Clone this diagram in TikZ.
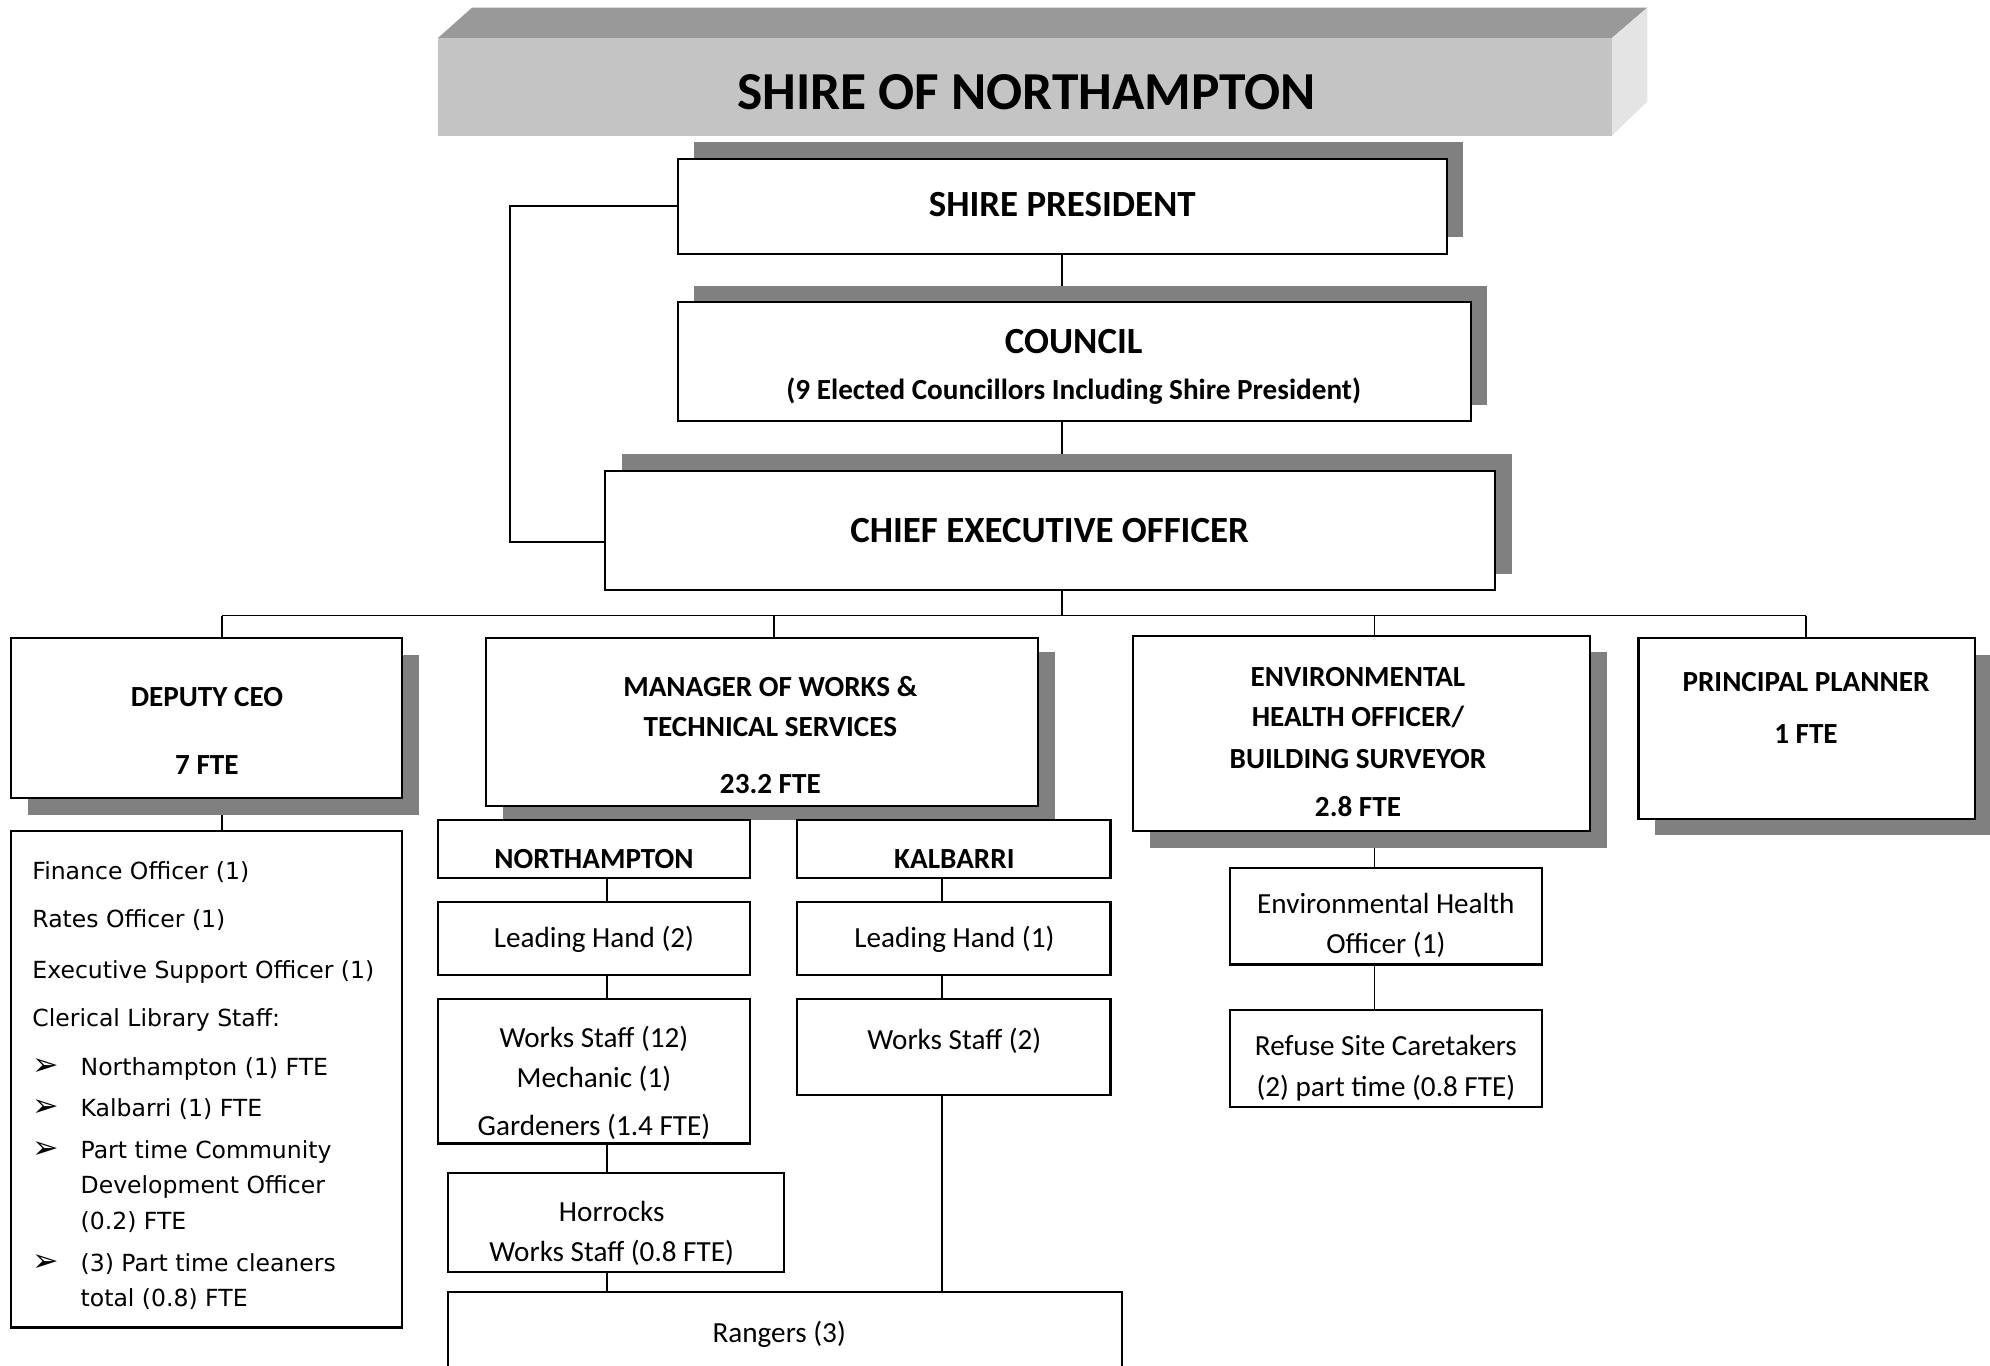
\documentclass[tikz,border=0pt]{standalone}
\usepackage{fontspec}
\setmainfont{Carlito}
\newfontfamily\verd{DejaVu Sans}
\usetikzlibrary{fit}
\pgfdeclarelayer{bg}
\pgfsetlayers{bg,main}
\definecolor{shd}{HTML}{808080}
\definecolor{tfront}{HTML}{C4C4C4}
\definecolor{ttop}{HTML}{999999}
\definecolor{tside}{HTML}{E4E4E4}
\tikzset{
 obox/.style={draw, line width=0.6pt, fill=white, inner sep=0pt},
 conn/.style={line width=0.5pt},
 tx/.style={inner sep=0pt, anchor=mid, font=\fontsize{8.3}{10}\selectfont},
 hd/.style={inner sep=0pt, anchor=mid, font=\fontsize{8.3}{10}\selectfont\bfseries},
 big/.style={inner sep=0pt, anchor=mid, font=\fontsize{10.5}{12}\selectfont\bfseries},
 lst/.style={inner sep=0pt, anchor=mid west, font=\fontsize{6.7}{8}\selectfont\verd},
 bul/.style={inner sep=0pt, anchor=mid west, font=\fontsize{9}{10}\selectfont\verd},
}
\newcommand\orgbox[7]{%
  \fill[shd] ({#2+#6},{#3+#7}) rectangle ({#4+#6},{#5+#7});
  \node[obox, fit={(#2,#3) (#4,#5)}] (#1) {};}
\newcommand\plainbox[5]{\node[obox, fit={(#2,#3) (#4,#5)}] (#1) {};}
\begin{document}
\begin{tikzpicture}[x=0.0127cm, y=-0.0127cm]
\useasboundingbox (0,0) rectangle (1568,1075.6);
\clip (0,0) rectangle (1568,1075.6);

% title block
\fill[ttop] (345,30) -- (372,6) -- (1298,6) -- (1270,30) -- cycle;
\fill[tside] (1270,30) -- (1298,6) -- (1298,80) -- (1270,107) -- cycle;
\node[fill=tfront, inner sep=0pt, fit={(345,30) (1270,107)}] (title) {};
\node[inner sep=0pt, anchor=mid, font=\fontsize{15.2}{18}\selectfont\bfseries] (titletext) at (809,80) {SHIRE OF NORTHAMPTON};

% top boxes
\orgbox{sp}{534}{125}{1140}{200}{13}{-13}
\orgbox{council}{534}{238}{1159}{332}{13}{-13}
\orgbox{ceo}{477}{371}{1178}{465}{13}{-13}

% second row
\orgbox{dep}{9}{503}{317}{629}{13}{13}
\orgbox{mgr}{383}{503}{818}{635}{13}{11}
\orgbox{env}{893}{501}{1253}{655}{13}{13}
\orgbox{pp}{1291}{503}{1556}{645}{13}{13}

% lower boxes
\plainbox{deplist}{9}{655}{317}{1046}
\plainbox{nh}{345}{646}{591}{692}
\plainbox{kb}{628}{646}{875}{692}
\plainbox{lhtwo}{345}{711}{591}{768}
\plainbox{lhone}{628}{711}{875}{768}
\plainbox{wstwelve}{345}{787}{591}{901}
\plainbox{wstwo}{628}{787}{875}{863}
\plainbox{hor}{353}{924}{618}{1002}
\plainbox{rng}{353}{1018}{884}{1110}
\plainbox{eho}{969}{684}{1215}{760}
\plainbox{refuse}{969}{796}{1215}{872}

% connectors
\coordinate (spine) at (837,0);
\coordinate (bl) at (402,427);
\coordinate (bus) at (837,485);
\coordinate (dA) at (175,485);
\coordinate (dB) at (610,485);
\coordinate (dC) at (1083,485);
\coordinate (dD) at (1423,485);
\coordinate (wn) at (478,0);
\coordinate (wk) at (742,0);
\begin{pgfonlayer}{bg}
\draw[conn] (spine |- sp.south) -- (spine |- council.north);
\draw[conn] (spine |- council.south) -- (spine |- ceo.north);
\draw[conn] (sp.west) -| (bl) -- (bl -| ceo.west);
\draw[conn] (spine |- ceo.south) -- (bus);
\draw[conn] (dA) -- (dD);
\draw[conn] (dA) -- (dA |- dep.north);
\draw[conn] (dB) -- (dB |- mgr.north);
\draw[conn] (dC) -- (dC |- env.north);
\draw[conn] (dD) -- (dD |- pp.north);
\draw[conn] (dA |- dep.south) -- (dA |- deplist.north);
\draw[conn] (dC |- env.south) -- (dC |- eho.north);
\draw[conn] (dC |- eho.south) -- (dC |- refuse.north);
\draw[conn] (wn |- nh.south) -- (wn |- lhtwo.north);
\draw[conn] (wn |- lhtwo.south) -- (wn |- wstwelve.north);
\draw[conn] (wn |- wstwelve.south) -- (wn |- hor.north);
\draw[conn] (wn |- hor.south) -- (wn |- rng.north);
\draw[conn] (wk |- kb.south) -- (wk |- lhone.north);
\draw[conn] (wk |- lhone.south) -- (wk |- wstwo.north);
\draw[conn] (wk |- wstwo.south) -- (wk |- rng.north);
\end{pgfonlayer}

% texts top
\node[big] (tsp) at (837,164) {SHIRE PRESIDENT};
\node[big] (tco) at (846,272) {COUNCIL};
\node[inner sep=0pt, anchor=mid, font=\fontsize{8.3}{10}\selectfont\bfseries] (tco2) at (846,308) {(9 Elected Councillors Including Shire President)};
\node[big] (tceo) at (827,421) {CHIEF EXECUTIVE OFFICER};

% row 2 texts
\node[hd] (tdep1) at (163,550) {DEPUTY CEO};
\node[hd] (tdep2) at (163,604) {7 FTE};
\node[hd] (tmgr1) at (607,542) {MANAGER OF WORKS \&};
\node[hd] (tmgr2) at (607,574) {TECHNICAL SERVICES};
\node[hd] (tmgr3) at (607,619) {23.2 FTE};
\node[hd] (tenv1) at (1070,534) {ENVIRONMENTAL};
\node[hd] (tenv2) at (1070,566) {HEALTH OFFICER/};
\node[hd] (tenv3) at (1070,599) {BUILDING SURVEYOR};
\node[hd] (tenv4) at (1070,637) {2.8 FTE};
\node[hd] (tpp1) at (1423,538) {PRINCIPAL PLANNER};
\node[hd] (tpp2) at (1423,579) {1 FTE};

% deputy list
\node[lst] (l1) at (25,686) {Finance Officer (1)};
\node[lst] (l2) at (25,724) {Rates Officer (1)};
\node[lst] (l3) at (25,764) {Executive Support Officer (1)};
\node[lst] (l4) at (25,802) {Clerical Library Staff:};
\node[bul] (b1) at (25,841) {➢};
\node[lst] (l5) at (63,841) {Northampton (1) FTE};
\node[bul] (b2) at (25,873) {➢};
\node[lst] (l6) at (63,873) {Kalbarri (1) FTE};
\node[bul] (b3) at (25,906) {➢};
\node[lst] (l7) at (63,906) {Part time Community};
\node[lst] (l8) at (63,934) {Development Officer};
\node[lst] (l9) at (63,962) {(0.2) FTE};
\node[bul] (b4) at (25,995) {➢};
\node[lst] (l10) at (63,995) {(3) Part time cleaners};
\node[lst] (l11) at (63,1023) {total (0.8) FTE};

% works texts
\node[hd] (tnh) at (468,678) {NORTHAMPTON};
\node[hd] (tkb) at (752,678) {KALBARRI};
\node[tx] (tlh2) at (468,740) {Leading Hand (2)};
\node[tx] (tlh1) at (752,740) {Leading Hand (1)};
\node[tx] (tws1) at (468,819) {Works Staff (12)};
\node[tx] (tws2) at (468,850) {Mechanic (1)};
\node[tx] (tws3) at (468,888) {Gardeners (1.4 FTE)};
\node[tx] (tws4) at (752,820) {Works Staff (2)};
\node[tx] (th1) at (482,956) {Horrocks};
\node[tx] (th2) at (482,987) {Works Staff (0.8 FTE)};
\node[tx] (tr) at (614,1051) {Rangers (3)};

% env texts
\node[tx] (te1) at (1092,713) {Environmental Health};
\node[tx] (te2) at (1092,745) {Officer (1)};
\node[tx] (te3) at (1092,825) {Refuse Site Caretakers};
\node[tx] (te4) at (1092,857) {(2) part time (0.8 FTE)};
\end{tikzpicture}
\end{document}
